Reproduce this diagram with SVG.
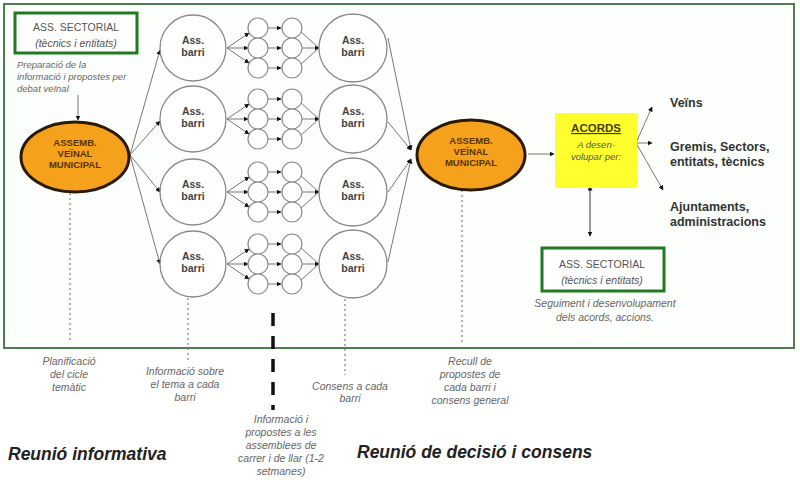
<svg xmlns="http://www.w3.org/2000/svg" width="800" height="480" viewBox="0 0 800 480">
<defs>
<marker id="ah" viewBox="0 0 10 10" refX="9" refY="5" markerWidth="5" markerHeight="5" orient="auto" markerUnits="userSpaceOnUse"><path d="M0,0 L10,5 L0,10 z" fill="#111"/></marker>
<marker id="ahs" viewBox="0 0 10 10" refX="1" refY="5" markerWidth="5" markerHeight="5" orient="auto-start-reverse" markerUnits="userSpaceOnUse"><path d="M0,0 L10,5 L0,10 z" fill="#111"/></marker>
</defs>
<style>
text{font-family:"Liberation Sans",Arial,sans-serif}
.big{fill:#fff;stroke:#8a8a8a;stroke-width:1.3}
.sm{fill:#fff;stroke:#8a8a8a;stroke-width:1.2}
.bt{font-size:10.5px;font-weight:bold;fill:#444;text-anchor:middle}
.ell{fill:#F5A11C;stroke:#2a1a08;stroke-width:3}
.et{font-size:9.5px;font-weight:bold;fill:#5a3300;text-anchor:middle}
.gbox{fill:#fff;stroke:#1f7a22;stroke-width:3}
.gt{font-size:10.5px;fill:#555;text-anchor:middle}
.note{font-size:10.5px;font-style:italic;fill:#666;text-anchor:middle}
.cn{stroke:#777;stroke-width:1;fill:none}
.ca{stroke:#777;stroke-width:1;fill:none;marker-end:url(#ah)}
.dot{stroke:#888;stroke-width:1.3;stroke-dasharray:2 3;fill:none}
.rt{font-size:12.5px;font-weight:bold;fill:#333}
.head{font-size:17.5px;font-weight:bold;font-style:italic;fill:#222}
</style>
<rect x="0" y="0" width="800" height="480" fill="#fff"/>
<rect id="frame" x="4" y="4" width="790" height="344" fill="#fcfffc" stroke="#4f7f4f" stroke-width="2"/>

<g id="connectors">
<line class="ca" x1="78" y1="95" x2="78" y2="120"/>
<line class="ca" x1="130" y1="155" x2="160" y2="50"/>
<line class="ca" x1="130" y1="155" x2="160" y2="121"/>
<line class="ca" x1="130" y1="155" x2="160" y2="192"/>
<line class="ca" x1="130" y1="155" x2="160" y2="264"/>
<g transform="translate(0,48)">
<line class="ca" x1="227" y1="0" x2="249" y2="-15"/><line class="ca" x1="227" y1="0" x2="248" y2="0"/><line class="ca" x1="227" y1="0" x2="249" y2="15"/>
<line class="ca" x1="268" y1="-20" x2="281" y2="-20"/><line class="ca" x1="268" y1="0" x2="281" y2="0"/><line class="ca" x1="268" y1="20" x2="281" y2="20"/>
<line class="cn" x1="301" y1="-16" x2="319" y2="0"/><line class="ca" x1="302" y1="0" x2="319" y2="0"/><line class="cn" x1="301" y1="16" x2="319" y2="0"/>
</g>
<g transform="translate(0,119)">
<line class="ca" x1="227" y1="0" x2="249" y2="-15"/><line class="ca" x1="227" y1="0" x2="248" y2="0"/><line class="ca" x1="227" y1="0" x2="249" y2="15"/>
<line class="ca" x1="268" y1="-20" x2="281" y2="-20"/><line class="ca" x1="268" y1="0" x2="281" y2="0"/><line class="ca" x1="268" y1="20" x2="281" y2="20"/>
<line class="cn" x1="301" y1="-16" x2="319" y2="0"/><line class="ca" x1="302" y1="0" x2="319" y2="0"/><line class="cn" x1="301" y1="16" x2="319" y2="0"/>
</g>
<g transform="translate(0,192)">
<line class="ca" x1="227" y1="0" x2="249" y2="-15"/><line class="ca" x1="227" y1="0" x2="248" y2="0"/><line class="ca" x1="227" y1="0" x2="249" y2="15"/>
<line class="ca" x1="268" y1="-20" x2="281" y2="-20"/><line class="ca" x1="268" y1="0" x2="281" y2="0"/><line class="ca" x1="268" y1="20" x2="281" y2="20"/>
<line class="cn" x1="301" y1="-16" x2="319" y2="0"/><line class="ca" x1="302" y1="0" x2="319" y2="0"/><line class="cn" x1="301" y1="16" x2="319" y2="0"/>
</g>
<g transform="translate(0,264)">
<line class="ca" x1="227" y1="0" x2="249" y2="-15"/><line class="ca" x1="227" y1="0" x2="248" y2="0"/><line class="ca" x1="227" y1="0" x2="249" y2="15"/>
<line class="ca" x1="268" y1="-20" x2="281" y2="-20"/><line class="ca" x1="268" y1="0" x2="281" y2="0"/><line class="ca" x1="268" y1="20" x2="281" y2="20"/>
<line class="cn" x1="301" y1="-16" x2="319" y2="0"/><line class="ca" x1="302" y1="0" x2="319" y2="0"/><line class="cn" x1="301" y1="16" x2="319" y2="0"/>
</g>
<line class="ca" x1="388" y1="38" x2="411" y2="150"/>
<line class="ca" x1="388" y1="122" x2="411" y2="150"/>
<line class="ca" x1="388" y1="192" x2="411" y2="159"/>
<line class="ca" x1="388" y1="262" x2="411" y2="159"/>
<line class="ca" x1="528" y1="154" x2="554" y2="154"/>
<line class="ca" x1="636" y1="143" x2="652" y2="107"/>
<line class="ca" x1="636" y1="143" x2="652" y2="143"/>
<line class="ca" x1="636" y1="143" x2="663" y2="190"/>
<line x1="590" y1="190" x2="590" y2="236" stroke="#555" stroke-width="1.2" marker-start="url(#ahs)" marker-end="url(#ah)"/>
<line class="dot" x1="70" y1="193" x2="70" y2="342"/>
<line class="dot" x1="188" y1="298" x2="188" y2="362"/>
<line class="dot" x1="345" y1="299" x2="345" y2="375"/>
<line class="dot" x1="462" y1="190" x2="462" y2="345"/>
<line x1="273" y1="313" x2="273" y2="410" stroke="#111" stroke-width="3.5" stroke-dasharray="13 10"/>
</g>

<g id="ass-sectorial-top">
<rect class="gbox" x="15" y="13" width="122" height="40"/>
<text class="gt" x="76" y="31">ASS. SECTORIAL</text>
<text class="gt" x="76" y="47" font-style="italic">(tècnics i entitats)</text>
</g>
<g id="note-preparacio">
<text x="17" y="68" font-size="9.5px" font-style="italic" fill="#666">Preparació de la</text>
<text x="17" y="80" font-size="9.5px" font-style="italic" fill="#666">informació i propostes per</text>
<text x="17" y="92" font-size="9.5px" font-style="italic" fill="#666">debat veïnal</text>
</g>
<g id="assemblea-1">
<ellipse class="ell" cx="75" cy="157" rx="54" ry="35"/>
<text class="et" x="75" y="146">ASSEMB.</text>
<text class="et" x="75" y="157">VEÏNAL</text>
<text class="et" x="75" y="168">MUNICIPAL</text>
</g>

<g id="barri-l1"><circle class="big" cx="193" cy="48" r="33"/><text class="bt" x="193" y="44">Ass.</text><text class="bt" x="193" y="56">barri</text></g>
<g id="barri-l2"><circle class="big" cx="193" cy="119" r="33"/><text class="bt" x="193" y="115">Ass.</text><text class="bt" x="193" y="127">barri</text></g>
<g id="barri-l3"><circle class="big" cx="193" cy="192" r="33"/><text class="bt" x="193" y="188">Ass.</text><text class="bt" x="193" y="200">barri</text></g>
<g id="barri-l4"><circle class="big" cx="193" cy="264" r="33"/><text class="bt" x="193" y="260">Ass.</text><text class="bt" x="193" y="272">barri</text></g>

<g id="barri-r1"><circle class="big" cx="353" cy="48" r="34"/><text class="bt" x="353" y="44">Ass.</text><text class="bt" x="353" y="56">barri</text></g>
<g id="barri-r2"><circle class="big" cx="353" cy="119" r="34"/><text class="bt" x="353" y="115">Ass.</text><text class="bt" x="353" y="127">barri</text></g>
<g id="barri-r3"><circle class="big" cx="353" cy="192" r="34"/><text class="bt" x="353" y="188">Ass.</text><text class="bt" x="353" y="200">barri</text></g>
<g id="barri-r4"><circle class="big" cx="353" cy="264" r="34"/><text class="bt" x="353" y="260">Ass.</text><text class="bt" x="353" y="272">barri</text></g>

<g id="carrer-1" transform="translate(0,48)">
<circle class="sm" cx="258" cy="-20" r="10"/><circle class="sm" cx="258" cy="0" r="10"/><circle class="sm" cx="258" cy="20" r="10"/>
<circle class="sm" cx="292" cy="-20" r="10"/><circle class="sm" cx="292" cy="0" r="10"/><circle class="sm" cx="292" cy="20" r="10"/>
</g>
<g id="carrer-2" transform="translate(0,119)">
<circle class="sm" cx="258" cy="-20" r="10"/><circle class="sm" cx="258" cy="0" r="10"/><circle class="sm" cx="258" cy="20" r="10"/>
<circle class="sm" cx="292" cy="-20" r="10"/><circle class="sm" cx="292" cy="0" r="10"/><circle class="sm" cx="292" cy="20" r="10"/>
</g>
<g id="carrer-3" transform="translate(0,192)">
<circle class="sm" cx="258" cy="-20" r="10"/><circle class="sm" cx="258" cy="0" r="10"/><circle class="sm" cx="258" cy="20" r="10"/>
<circle class="sm" cx="292" cy="-20" r="10"/><circle class="sm" cx="292" cy="0" r="10"/><circle class="sm" cx="292" cy="20" r="10"/>
</g>
<g id="carrer-4" transform="translate(0,264)">
<circle class="sm" cx="258" cy="-20" r="10"/><circle class="sm" cx="258" cy="0" r="10"/><circle class="sm" cx="258" cy="20" r="10"/>
<circle class="sm" cx="292" cy="-20" r="10"/><circle class="sm" cx="292" cy="0" r="10"/><circle class="sm" cx="292" cy="20" r="10"/>
</g>

<g id="assemblea-2">
<ellipse class="ell" cx="471" cy="155" rx="54" ry="35"/>
<text class="et" x="471" y="144">ASSEMB.</text>
<text class="et" x="471" y="155">VEÏNAL</text>
<text class="et" x="471" y="166">MUNICIPAL</text>
</g>

<g id="acords">
<rect x="555" y="113" width="82" height="75" fill="#FFFF2E"/>
<text x="596" y="132" font-size="11.5px" font-weight="bold" fill="#4a3a00" text-anchor="middle" text-decoration="underline">ACORDS</text>
<text x="596" y="148" font-size="9.5px" font-style="italic" fill="#555" text-anchor="middle">A desen-</text>
<text x="596" y="160" font-size="9.5px" font-style="italic" fill="#555" text-anchor="middle">volupar per:</text>
</g>

<g id="dest-veins"><text class="rt" x="670" y="107">Veïns</text></g>
<g id="dest-gremis"><text class="rt" x="670" y="151">Gremis, Sectors,</text><text class="rt" x="670" y="166">entitats, tècnics</text></g>
<g id="dest-ajuntaments"><text class="rt" x="670" y="211">Ajuntaments,</text><text class="rt" x="670" y="226">administracions</text></g>

<g id="ass-sectorial-bottom">
<rect class="gbox" x="542" y="248" width="122" height="43"/>
<text class="gt" x="602" y="268">ASS. SECTORIAL</text>
<text class="gt" x="602" y="284" font-style="italic">(tècnics i entitats)</text>
</g>
<g id="note-seguiment">
<text class="note" x="605" y="307" font-size="11.5px">Seguiment i desenvolupament</text>
<text class="note" x="605" y="321" font-size="11.5px">dels acords, accions.</text>
</g>

<g id="note-planificacio">
<text class="note" x="69" y="365">Planificació</text>
<text class="note" x="69" y="378">del cicle</text>
<text class="note" x="69" y="391">temàtic</text>
</g>
<g id="note-informacio">
<text class="note" x="185" y="375">Informació sobre</text>
<text class="note" x="185" y="388">el tema a cada</text>
<text class="note" x="185" y="401">barri</text>
</g>
<g id="note-carrer">
<text class="note" x="281" y="423">Informació i</text>
<text class="note" x="281" y="436">propostes a les</text>
<text class="note" x="281" y="449">assemblees de</text>
<text class="note" x="281" y="462">carrer i de llar (1-2</text>
<text class="note" x="281" y="475">setmanes)</text>
</g>
<g id="note-consens">
<text class="note" x="350" y="390">Consens a cada</text>
<text class="note" x="350" y="402">barri</text>
</g>
<g id="note-recull">
<text class="note" x="470" y="365">Recull de</text>
<text class="note" x="470" y="378">propostes de</text>
<text class="note" x="470" y="391">cada barri i</text>
<text class="note" x="470" y="404">consens general</text>
</g>

<g id="heading-informativa"><text class="head" x="8" y="460">Reunió informativa</text></g>
<g id="heading-decisio"><text class="head" x="357" y="458">Reunió de decisió i consens</text></g>
</svg>
